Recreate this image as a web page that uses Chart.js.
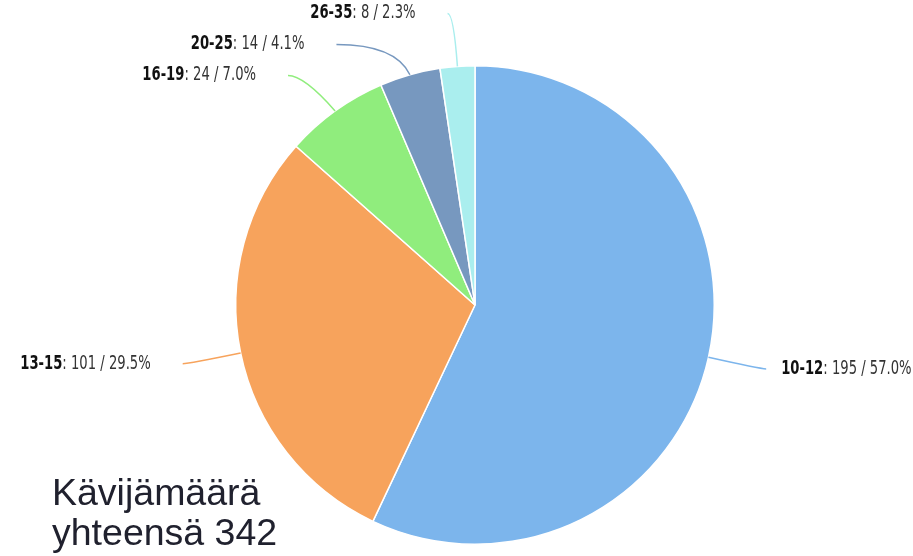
<!DOCTYPE html>
<html>
<head>
<meta charset="utf-8">
<script src="https://cdn.jsdelivr.net/npm/chart.js@4.4.1/dist/chart.umd.min.js"></script>
<style>
    html, body { margin: 0; padding: 0; background: #fff; }
    #wrap { position: relative; width: 913px; height: 556px; }
    #total {
        position: absolute; left: 52px; top: 472px;
        font: 37.5px "Liberation Sans", Arial, sans-serif;
        line-height: 40px; color: #20212e; white-space: nowrap;
    }
</style>
</head>
<body>
<div id="wrap">
    <canvas id="ageChart" width="913" height="556"></canvas>
    <div id="total">Kävijämäärä<br>yhteensä 342</div>
</div>
<script>
// age groups and visitor counts
const ageGroups = ["10-12", "13-15", "16-19", "20-25", "26-35"];
const visitors = [195, 101, 24, 14, 8];
const sliceColors = ["#7cb5ec", "#f7a35c", "#90ed7d", "#7798bf", "#aaeeee"];

const labelFont = '"DejaVu Sans Condensed", "Liberation Sans Narrow", sans-serif';
const textSquash = 0.77; // the original label font is very narrow
const connectorDistance = 53;
const labelSpacing = 31;

// draws the curved connectors and "group: n / p%" labels
const pieLabels = {
    id: "pieLabels",
    afterDatasetsDraw(chart) {
        const ctx = chart.ctx;
        const meta = chart.getDatasetMeta(0);
        const total = visitors.reduce((a, b) => a + b, 0);
        const items = meta.data.map((arc, i) => {
            const p = arc.getProps(["x", "y", "startAngle", "endAngle", "outerRadius"]);
            const mid = (p.startAngle + p.endAngle) / 2;
            const far = p.outerRadius + connectorDistance;
            return {
                i, p, mid, far,
                right: Math.cos(mid) >= 0,
                y: p.y + Math.sin(mid) * far
            };
        });

        // push labels apart on each side
        [true, false].forEach(side => {
            const list = items.filter(it => it.right === side).sort((a, b) => a.y - b.y);
            for (let k = 1; k < list.length; k++) {
                if (list[k].y < list[k - 1].y + labelSpacing) {
                    list[k].y = list[k - 1].y + labelSpacing;
                }
            }
        });

        ctx.save();
        items.forEach(it => {
            const p = it.p;
            const dir = it.right ? 1 : -1;
            const dy = Math.min(Math.abs(it.y - p.y), it.far);
            const endX = p.x + dir * (Math.sqrt(it.far * it.far - dy * dy) + 6);
            const startX = p.x + Math.cos(it.mid) * p.outerRadius;
            const startY = p.y + Math.sin(it.mid) * p.outerRadius;
            const ctrlX = p.x + Math.cos(it.mid) * it.far;

            ctx.beginPath();
            ctx.moveTo(startX, startY);
            ctx.quadraticCurveTo(ctrlX, it.y, endX, it.y);
            ctx.strokeStyle = sliceColors[it.i];
            ctx.lineWidth = 1.5;
            ctx.stroke();

            const name = ageGroups[it.i];
            const rest = ": " + visitors[it.i] + " / " + (visitors[it.i] / total * 100).toFixed(1) + "%";
            ctx.font = "bold 19px " + labelFont;
            const w1 = ctx.measureText(name).width;
            ctx.font = "19px " + labelFont;
            const w2 = ctx.measureText(rest).width;
            const tx = it.right ? endX + 15 : endX - 32 - (w1 + w2) * textSquash;

            ctx.save();
            ctx.translate(tx, it.y);
            ctx.scale(textSquash, 1);
            ctx.textBaseline = "middle";
            ctx.textAlign = "left";
            ctx.fillStyle = "#111";
            ctx.font = "bold 19px " + labelFont;
            ctx.fillText(name, 0, 0);
            ctx.fillStyle = "#333";
            ctx.font = "19px " + labelFont;
            ctx.fillText(rest, w1, 0);
            ctx.restore();
        });
        ctx.restore();
    }
};

new Chart("ageChart", {
    type: "pie",
    data: {
        labels: ageGroups,
        datasets: [{
            data: visitors,
            backgroundColor: sliceColors,
            borderColor: "#ffffff",
            borderWidth: 1.5
        }]
    },
    options: {
        responsive: false,
        animation: false,
        layout: { padding: { left: 235, right: 198, top: 65, bottom: 11 } },
        plugins: {
            legend: { display: false },
            tooltip: { enabled: false }
        }
    },
    plugins: [pieLabels]
});
</script>
</body>
</html>
